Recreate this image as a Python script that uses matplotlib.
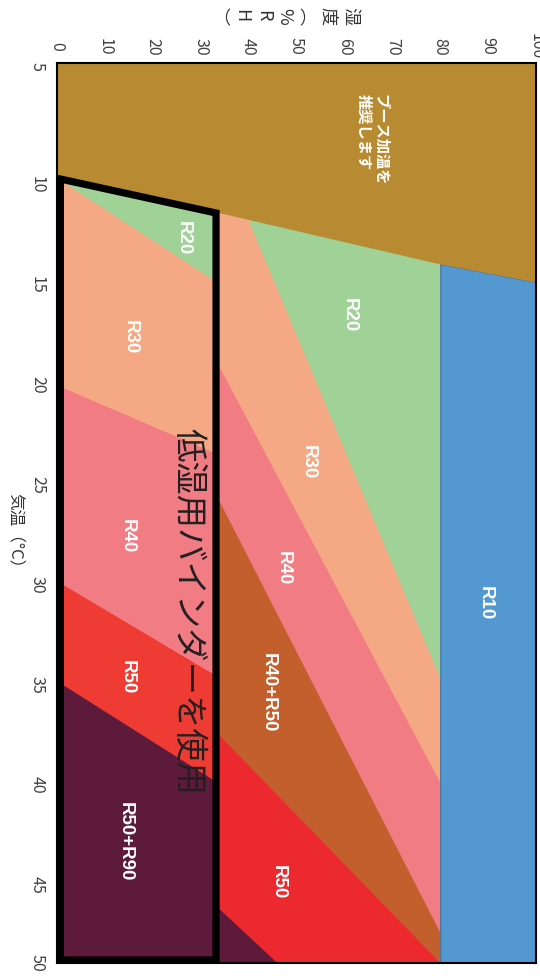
import numpy as np
import matplotlib
matplotlib.use('Agg')
import matplotlib.pyplot as plt

plt.rcParams['font.family'] = ['Noto Sans CJK JP', 'DejaVu Sans']

# axis ticks
hum_ticks = [0, 10, 20, 30, 40, 50, 60, 70, 80, 90, 100]
temp_ticks = [5, 10, 15, 20, 25, 30, 35, 40, 45, 50]
t_top, t_bottom = 3.9, 48.9

# booth heating zone boundary (humidity -> temperature)
brown_h = [0, 80, 100]
brown_t = [9.5, 13.95, 14.85]

# R10 zone
r10_h = [80, 100]

# bands outside the low-humidity box
out_h = [33, 80]
out_r20_r30 = [7.8, 34.7]
out_r30_r40 = [18.7, 39.9]
out_r40_r4050 = [25.4, 47.4]
out_r4050_r50 = [37.3, 48.9]
out_r50_r5090_h = [33, 46]
out_r50_r5090 = [46.0, 48.9]

# bands inside the low-humidity box
in_h = [0, 33]
in_r20_r30 = [9.65, 14.8]
in_r30_r40 = [20.0, 23.4]
in_r40_r50 = [29.8, 34.5]
in_r50_r5090 = [34.8, 39.8]

# low-humidity box outline
box_h = [0.7, 33.2]
box_top = [9.7, 11.4]
box_bottom = 48.75

# zone labels
zone_text = ['R20', 'R20', 'R30', 'R30', 'R40', 'R40', 'R40+R50', 'R50', 'R50', 'R50+R90', 'R10']
zone_h = [26.3, 61.0, 15.2, 52.4, 14.6, 47.2, 44.1, 14.6, 46.1, 14.2, 89.4]
zone_t = [12.65, 16.5, 17.6, 23.85, 27.55, 29.15, 35.4, 34.6, 44.85, 42.85, 30.9]

BROWN = '#B88B32'
BLUE = '#5498D2'
GREEN = '#A0D197'
SALMON = '#F4A984'
PINK = '#F27C84'
ORANGE = '#C35F2D'
RED_OUT = '#EC292F'
RED_IN = '#EE3B33'
PURPLE = '#5E1A3B'

fig = plt.figure(figsize=(5.4, 9.76), dpi=100)
ax = fig.add_axes([57 / 540, 1 - 963 / 976, 479 / 540, 900 / 976])

#outside bands, drawn top to bottom so each covers the one above
ax.fill_between(out_h, t_top, t_bottom, color=GREEN, lw=0)
ax.fill_between(out_h, out_r20_r30, t_bottom, color=SALMON, lw=0)
ax.fill_between(out_h, out_r30_r40, t_bottom, color=PINK, lw=0)
ax.fill_between(out_h, out_r40_r4050, t_bottom, color=ORANGE, lw=0)
ax.fill_between(out_h, out_r4050_r50, t_bottom, color=RED_OUT, lw=0)
ax.fill_between(out_r50_r5090_h, out_r50_r5090, t_bottom, color=PURPLE, lw=0)

#inside the box
ax.fill_between(in_h, t_top, t_bottom, color=GREEN, lw=0)
ax.fill_between(in_h, in_r20_r30, t_bottom, color=SALMON, lw=0)
ax.fill_between(in_h, in_r30_r40, t_bottom, color=PINK, lw=0)
ax.fill_between(in_h, in_r40_r50, t_bottom, color=RED_IN, lw=0)
ax.fill_between(in_h, in_r50_r5090, t_bottom, color=PURPLE, lw=0)

#R10 and heating zone
ax.fill_between(r10_h, np.interp(r10_h, brown_h, brown_t), t_bottom, fc=BLUE, ec='#41719C', lw=0.8)
ax.fill_between(brown_h, t_top, brown_t, color=BROWN, lw=0)

#box outline
box_xy = [(box_h[0], box_top[0]), (box_h[1], box_top[1]),
          (box_h[1], box_bottom), (box_h[0], box_bottom)]
ax.add_patch(plt.Polygon(box_xy, closed=True, fill=False, ec='black', lw=5.2, joinstyle='miter'))

for txt, h, t in zip(zone_text, zone_h, zone_t):
    ax.text(h, t, txt, rotation=-90, ha='center', va='center', color='white',
            fontsize=13.5, fontweight='bold', family=['Liberation Sans', 'DejaVu Sans'])

ax.text(65.8, 7.75, 'ブース加温を\n推奨します', rotation=-90, ha='center', va='center',
        multialignment='left', color='white', fontsize=11, fontweight='bold', linespacing=1.05)
ax.text(27.3, 31.35, '低湿用バインダーを使用', rotation=-90, ha='center', va='center',
        color='#231F20', fontsize=24)

ax.set_xlim(0, 100)
ax.set_ylim(t_bottom, t_top)

ax.xaxis.tick_top()
ax.set_xticks(hum_ticks)
ax.set_xticklabels([str(v) for v in hum_ticks], rotation=-90, va='center')
tick_pos = list(temp_ticks)
tick_pos[0] = t_top + 0.15
tick_pos[-1] = t_bottom
ax.set_yticks(tick_pos)
ax.set_yticklabels([str(v) for v in temp_ticks], rotation=-90, va='center')
ax.tick_params(axis='x', length=0, pad=12, labelsize=11.5, labelcolor='#404040')
ax.tick_params(axis='y', length=0, pad=8, labelsize=11.5, labelcolor='#404040')
for s in ax.spines.values():
    s.set_linewidth(1.5)
    s.set_color('black')

#axis titles
title_chars = ['湿', '度', '︵', '%', 'R', 'H', '︶']
for i, ch in enumerate(title_chars):
    fig.text((350 - 21.8 * i) / 540, 1 - 16 / 976, ch, rotation=-90, ha='center', va='center',
             fontsize=13, color='#333333')
fig.text(15 / 540, 1 - 535 / 976, '気温（°C）', rotation=-90, ha='center', va='center',
         fontsize=12, color='#333333')

fig.savefig('out.png', dpi=100)
